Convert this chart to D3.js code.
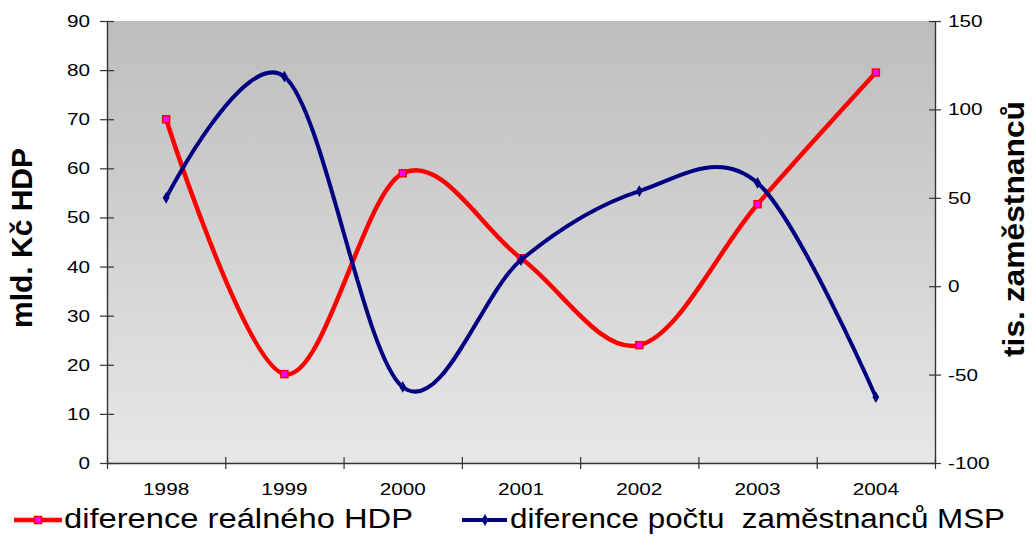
<!DOCTYPE html>
<html>
<head>
<meta charset="utf-8">
<script src="https://cdn.jsdelivr.net/npm/d3@7"></script>
<style>
  html, body { margin: 0; padding: 0; background: #ffffff; }
  svg { display: block; }
  text { font-family: "Liberation Sans", Arial, sans-serif; fill: #000; }
</style>
</head>
<body>
<svg id="chart" width="1033" height="542"></svg>
<script>
// Years on the category axis
const years = ["1998", "1999", "2000", "2001", "2002", "2003", "2004"];
// Difference of real GDP (bn CZK, left axis)
const hdpDiff = [70, 18.1, 59, 41.7, 24, 52.7, 79.5];
// Difference in number of employees (thousands, right axis)
const staffDiff = [50, 118.5, -57, 14.8, 53.8, 58.4, -62.7];
// Tick values of both value axes
const leftTicks = [0, 10, 20, 30, 40, 50, 60, 70, 80, 90];
const rightTicks = [-100, -50, 0, 50, 100, 150];

const seriesNames = ["diference reálného HDP", "diference počtu  zaměstnanců MSP"];

const plot = { left: 107, right: 935, top: 21, bottom: 463 };
const stretch = 1.22;          // horizontal widening of the axis labels
const svg = d3.select("#chart");

// Background of the plot area: grey vertical gradient
const defs = svg.append("defs");
const grad = defs.append("linearGradient")
  .attr("id", "plotBg").attr("x1", 0).attr("y1", 0).attr("x2", 0).attr("y2", 1);
grad.append("stop").attr("offset", "0%").attr("stop-color", "#bdbdbd");
grad.append("stop").attr("offset", "100%").attr("stop-color", "#e7e7e7");

svg.append("rect")
  .attr("x", plot.left).attr("y", plot.top)
  .attr("width", plot.right - plot.left).attr("height", plot.bottom - plot.top)
  .attr("fill", "url(#plotBg)");

// Scales
const x = d3.scaleBand().domain(years).range([plot.left, plot.right]).padding(0);
const xEdge = d3.scaleLinear().domain([0, years.length]).range([plot.left, plot.right]);
const yL = d3.scaleLinear().domain([0, 90]).range([plot.bottom, plot.top]);
const yR = d3.scaleLinear().domain([-100, 150]).range([plot.bottom, plot.top]);
const cx = d => x(d) + x.bandwidth() / 2;

function styleAxis(g) {
  g.select(".domain").attr("stroke", "#333").attr("stroke-width", 1.4);
  g.selectAll(".tick line").attr("stroke", "#333").attr("stroke-width", 1.2);
  g.selectAll("text")
    .attr("font-size", 17)
    .attr("font-family", "Liberation Sans, Arial, sans-serif")
    .attr("fill", "#000")
    .attr("transform", `scale(${stretch},1)`)
    .attr("x", function () { return (+this.getAttribute("x") || 0) / stretch; });
}

// Left value axis
const gL = svg.append("g").attr("transform", `translate(${plot.left},0)`)
  .call(d3.axisLeft(yL).tickValues(leftTicks).tickSize(7).tickSizeOuter(0).tickPadding(10));
gL.selectAll(".tick line").attr("x1", 7);
styleAxis(gL);

// Right value axis
const gR = svg.append("g").attr("transform", `translate(${plot.right},0)`)
  .call(d3.axisRight(yR).tickValues(rightTicks).tickSize(6).tickSizeOuter(0).tickPadding(7)
    .tickFormat(d => d < 0 ? "-" + Math.abs(d) : String(d)));
gR.selectAll(".tick line").attr("x1", -6);
styleAxis(gR);

// Category axis: tick marks at the category boundaries
const gB = svg.append("g").attr("transform", `translate(0,${plot.bottom})`)
  .call(d3.axisBottom(xEdge).tickValues(d3.range(years.length + 1)).tickSize(6).tickSizeOuter(0).tickFormat(""));
gB.selectAll(".tick line").attr("y1", -6);
styleAxis(gB);

// Category labels centred in each band
const gY = svg.append("g").attr("transform", `translate(0,${plot.bottom})`)
  .call(d3.axisBottom(x).tickSize(0).tickPadding(20));
gY.select(".domain").remove();
styleAxis(gY);

// Axis titles
svg.append("text")
  .attr("transform", `translate(32,238) rotate(-90)`)
  .attr("text-anchor", "middle")
  .attr("font-size", 30).attr("font-weight", "bold")
  .attr("textLength", 180).attr("lengthAdjust", "spacingAndGlyphs")
  .text("mld. Kč HDP");

svg.append("text")
  .attr("transform", `translate(1024,229) rotate(-90)`)
  .attr("text-anchor", "middle")
  .attr("font-size", 30).attr("font-weight", "bold")
  .attr("textLength", 256).attr("lengthAdjust", "spacingAndGlyphs")
  .text("tis. zaměstnanců");

// Smoothed lines
const curve = d3.curveCardinal.tension(0);
const redLine = d3.line().x((d, i) => cx(years[i])).y(d => yL(d)).curve(curve);
const blueLine = d3.line().x((d, i) => cx(years[i])).y(d => yR(d)).curve(curve);

const RED = "#ff0000", PINK = "#ff00ff", NAVY = "#000080";

svg.append("path").datum(hdpDiff)
  .attr("d", redLine).attr("fill", "none")
  .attr("stroke", RED).attr("stroke-width", 4.5).attr("stroke-linejoin", "round");

svg.append("g").selectAll("rect").data(hdpDiff).join("rect")
  .attr("x", (d, i) => cx(years[i]) - 3.5).attr("y", d => yL(d) - 3.5)
  .attr("width", 7).attr("height", 7)
  .attr("fill", PINK).attr("stroke", RED).attr("stroke-width", 1.5);

svg.append("path").datum(staffDiff)
  .attr("d", blueLine).attr("fill", "none")
  .attr("stroke", NAVY).attr("stroke-width", 4).attr("stroke-linejoin", "round");

const diamond = d3.symbol().type(d3.symbolDiamond).size(40);
svg.append("g").selectAll("path").data(staffDiff).join("path")
  .attr("transform", (d, i) => `translate(${cx(years[i])},${yR(d)})`)
  .attr("d", diamond).attr("fill", NAVY);

// Legend
const legend = svg.append("g");
legend.append("line").attr("x1", 14).attr("x2", 62).attr("y1", 520).attr("y2", 520)
  .attr("stroke", RED).attr("stroke-width", 4.5);
legend.append("rect").attr("x", 34.5).attr("y", 516.5).attr("width", 7).attr("height", 7)
  .attr("fill", PINK).attr("stroke", RED).attr("stroke-width", 1.5);
legend.append("text").attr("x", 64).attr("y", 528)
  .attr("font-size", 27).attr("textLength", 349).attr("lengthAdjust", "spacingAndGlyphs")
  .style("white-space", "pre")
  .text(seriesNames[0]);

legend.append("line").attr("x1", 462).attr("x2", 507).attr("y1", 520).attr("y2", 520)
  .attr("stroke", NAVY).attr("stroke-width", 4);
legend.append("path").attr("transform", "translate(485,520)").attr("d", diamond).attr("fill", NAVY);
legend.append("text").attr("x", 510).attr("y", 528)
  .attr("font-size", 27).attr("textLength", 495).attr("lengthAdjust", "spacingAndGlyphs")
  .style("white-space", "pre")
  .text(seriesNames[1]);
</script>
</body>
</html>
